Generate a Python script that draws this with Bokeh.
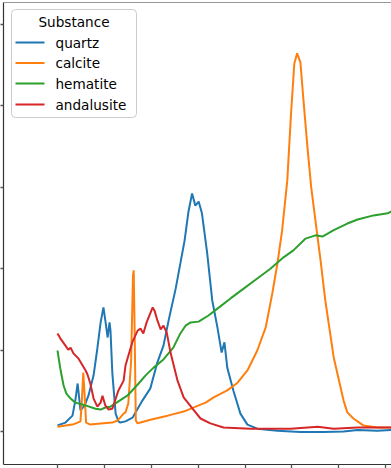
from bokeh.plotting import figure
from bokeh.models import LinearAxis, FixedTicker, Range1d, BoxAnnotation, Label, Arrow
from bokeh.embed import file_html
from bokeh.resources import INLINE

# ---- data ----
x_ticks = [0, 100, 200, 300, 400, 500, 600, 700]
y_ticks = [0.0, 0.2, 0.4, 0.6, 0.8, 1.0]
legend_title = "Substance"
substances = ["quartz", "calcite", "hematite", "andalusite"]
colors = ["#1f77b4", "#ff7f0e", "#2ca02c", "#d62728"]

quartz_x = [0, 17, 32, 38, 43, 49, 58, 66, 77, 85, 92, 98, 102, 107, 111, 113, 117, 124, 130, 134,
            145, 160, 181, 198, 213, 226, 237, 252, 262, 271, 279, 287, 294, 301, 308, 319, 330,
            341, 350, 356, 362, 375, 390, 405, 426, 469, 518, 567, 610, 640, 682, 712]
quartz_y = [0.015, 0.022, 0.039, 0.076, 0.118, 0.052, 0.064, 0.088, 0.138, 0.204, 0.268, 0.305,
            0.273, 0.231, 0.268, 0.248, 0.143, 0.044, 0.025, 0.022, 0.025, 0.034, 0.076, 0.106,
            0.170, 0.211, 0.273, 0.351, 0.413, 0.469, 0.538, 0.585, 0.555, 0.565, 0.536, 0.440,
            0.322, 0.256, 0.194, 0.219, 0.157, 0.101, 0.044, 0.017, 0.007, 0.002, -0.001, -0.001,
            0.000, 0.004, 0.002, 0.004]

calcite_x = [0, 17, 32, 43, 49, 52, 55, 58, 61, 70, 92, 117, 128, 141, 145, 151, 157, 161, 162.5,
             164.5, 167, 171, 177, 198, 235, 269, 305, 316, 333, 362, 384, 405, 426, 444, 458, 469,
             479, 490, 498, 505, 511, 518, 524, 533, 541, 550, 561, 571, 589, 610, 618, 631, 652,
             682, 712]
calcite_y = [0.012, 0.015, 0.017, 0.022, 0.025, 0.076, 0.145, 0.088, 0.022, 0.017, 0.020, 0.022,
             0.027, 0.044, 0.047, 0.069, 0.174, 0.383, 0.396, 0.248, 0.027, 0.020, 0.022, 0.029,
             0.039, 0.049, 0.066, 0.071, 0.084, 0.101, 0.120, 0.150, 0.199, 0.256, 0.339, 0.413,
             0.494, 0.617, 0.781, 0.904, 0.929, 0.907, 0.821, 0.698, 0.600, 0.518, 0.420, 0.322,
             0.182, 0.076, 0.047, 0.032, 0.015, 0.010, 0.010]

hematite_x = [0, 6, 13, 19, 28, 38, 55, 81, 92, 102, 113, 139, 149, 173, 188, 205, 226, 247, 262,
              273, 284, 301, 322, 341, 369, 397, 426, 454, 482, 503, 529, 550, 565, 588, 618, 640,
              674, 704, 712]
hematite_y = [0.199, 0.155, 0.113, 0.093, 0.081, 0.071, 0.066, 0.056, 0.054, 0.059, 0.061, 0.081,
              0.088, 0.118, 0.138, 0.157, 0.177, 0.206, 0.241, 0.260, 0.268, 0.270, 0.285, 0.302,
              0.327, 0.351, 0.376, 0.400, 0.428, 0.445, 0.474, 0.482, 0.479, 0.494, 0.511, 0.521,
              0.531, 0.536, 0.541]

andalusite_x = [0, 6, 17, 23, 28, 34, 45, 60, 64, 70, 77, 85, 92, 96, 102, 109, 117, 130, 141, 145,
                160, 171, 177, 183, 190, 203, 207, 213, 220, 226, 233, 241, 256, 269, 288, 305, 326,
                354, 411, 497, 555, 589, 640, 712]
andalusite_y = [0.241, 0.229, 0.211, 0.201, 0.206, 0.192, 0.179, 0.150, 0.140, 0.118, 0.081, 0.061,
                0.071, 0.088, 0.064, 0.054, 0.056, 0.101, 0.125, 0.162, 0.221, 0.248, 0.253, 0.241,
                0.268, 0.305, 0.297, 0.273, 0.251, 0.260, 0.243, 0.194, 0.125, 0.084, 0.056, 0.032,
                0.020, 0.010, 0.007, 0.007, 0.012, 0.007, 0.010, 0.010]

series_x = [quartz_x, calcite_x, hematite_x, andalusite_x]
series_y = [quartz_y, calcite_y, hematite_y, andalusite_y]

X_START, X_END = -115.1, 712.2
Y_START, Y_END = -0.081, 1.054

FONT = "DejaVu Sans"
FSIZE = "13.6px"
SPINE = "#333333"

p = figure(width=391, height=468, output_backend="svg", toolbar_location=None,
           x_range=Range1d(X_START, X_END), y_range=Range1d(Y_START, Y_END),
           min_border_left=3, min_border_top=2, min_border_right=0, min_border_bottom=4)
p.grid.visible = False
p.outline_line_color = None
p.background_fill_color = "white"
p.border_fill_color = "white"

for ax, ticks in ((p.xaxis, x_ticks), (p.yaxis, y_ticks)):
    ax.ticker = FixedTicker(ticks=ticks)
    ax.major_label_text_color = None
    ax.major_label_standoff = 0
    ax.minor_tick_line_color = None
    ax.major_tick_in = 0
    ax.major_tick_line_color = "#555555"
    ax.major_tick_line_width = 1.3
    ax.axis_line_color = SPINE
    ax.axis_line_width = 1.2
p.xaxis.major_tick_out = 4
p.yaxis.major_tick_out = 3

top = LinearAxis(ticker=FixedTicker(ticks=[]), major_tick_out=0, major_tick_in=0,
                 minor_tick_line_color=None, major_label_text_color=None,
                 major_label_standoff=0, axis_line_color=SPINE, axis_line_width=1.2,
                 fixed_location=Y_END)
p.add_layout(top, "above")

for name, col, xs, ys in zip(substances, colors, series_x, series_y):
    p.line(xs, ys, line_color=col, line_width=2)

# ---- legend drawn as annotations (screen units relative to the plot frame) ----
box = BoxAnnotation(left=8, right=133, top=455, bottom=347,
                    left_units="screen", right_units="screen",
                    top_units="screen", bottom_units="screen",
                    fill_color="white", fill_alpha=0.85,
                    line_color="#cccccc", line_width=1, line_alpha=1,
                    border_radius=4)
p.add_layout(box)
p.add_layout(Label(x=70.5, y=443, x_units="screen", y_units="screen", text=legend_title,
                   text_font=FONT, text_font_size=FSIZE, text_color="#000000",
                   text_align="center", text_baseline="middle"))
row_y = [422, 401.5, 381, 360]
for name, col, ry in zip(substances, colors, row_y):
    p.add_layout(Arrow(start=None, end=None, x_start=12, y_start=ry, x_end=41, y_end=ry,
                       start_units="screen", end_units="screen",
                       line_color=col, line_width=2))
    p.add_layout(Label(x=52, y=ry, x_units="screen", y_units="screen", text=name,
                       text_font=FONT, text_font_size=FSIZE, text_color="#000000",
                       text_align="left", text_baseline="middle"))

open("out.html", "w").write(file_html(p, INLINE))
